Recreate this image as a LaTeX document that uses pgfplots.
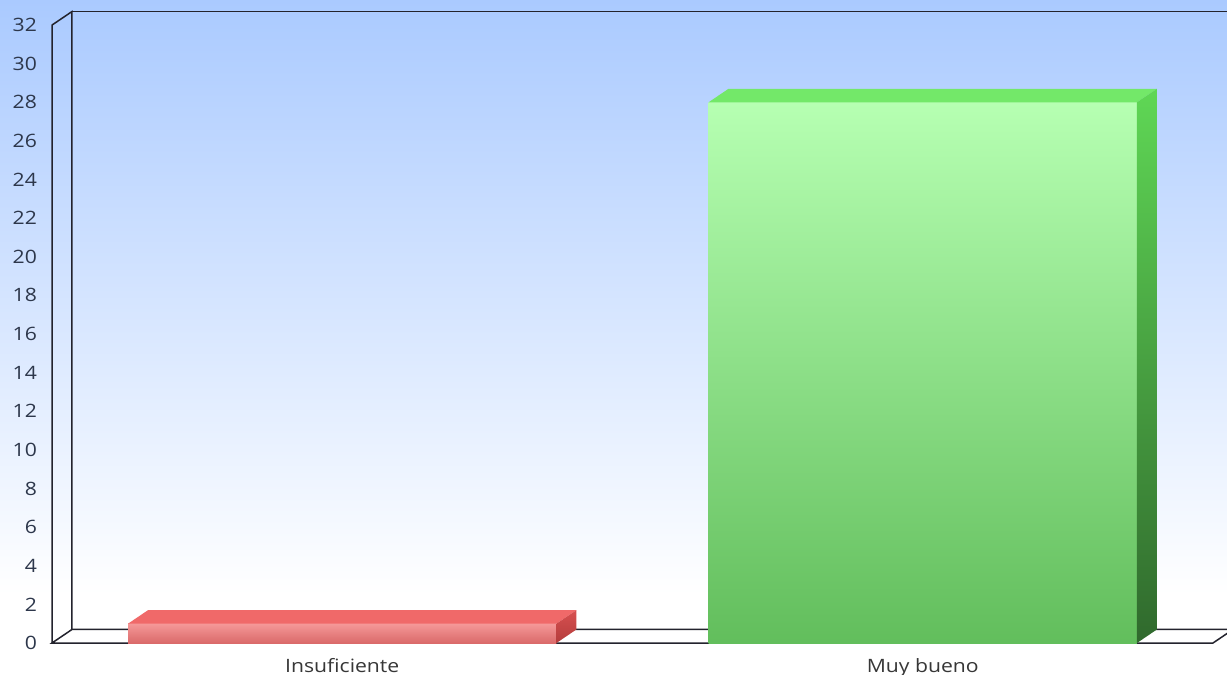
\documentclass[border=0pt]{standalone}
\usepackage{pgfplots}
\pgfplotsset{compat=1.18}
\usepackage{fontspec}
\setmainfont{Open Sans}[FakeStretch=1.15]
\definecolor{bgtop}{RGB}{170,202,255}
\definecolor{frame}{RGB}{35,35,45}
\definecolor{xlab}{RGB}{55,55,55}
\definecolor{ylab}{RGB}{45,55,75}
\definecolor{redfront1}{RGB}{245,152,152}
\definecolor{redfront2}{RGB}{218,106,106}
\definecolor{redtop}{RGB}{240,105,105}
\definecolor{redside1}{RGB}{215,80,80}
\definecolor{redside2}{RGB}{180,60,60}
\definecolor{grnfront1}{RGB}{182,255,178}
\definecolor{grnfront2}{RGB}{98,190,92}
\definecolor{grntop}{RGB}{115,232,105}
\definecolor{grnside1}{RGB}{95,215,85}
\definecolor{grnside2}{RGB}{48,105,45}
\begin{document}
\begin{tikzpicture}
\fill[white] (0,0) rectangle (613.5pt,337.5pt);
\shade[top color=bgtop, bottom color=white] (0,40pt) rectangle (613.5pt,337.5pt);
\begin{axis}[
  at={(26pt,16pt)}, anchor=south west,
  x=290.25pt, y=9.655pt,
  xmin=-0.5, xmax=1.5344, ymin=0, ymax=32.70,
  axis line style={draw=none},
  major tick length=0pt,
  xtick={0,1}, xticklabels={Insuficiente, Muy bueno},
  ytick={0,2,...,32},
  clip=false,
  /pgf/number format/assume math mode=true,
  yticklabel style={font=\fontsize{9.2}{10}\selectfont, text=ylab, xshift=-4pt},
  xticklabel style={font=\fontsize{9.2}{10}\selectfont, text=xlab, yshift=-4pt},
]
% floor and walls
\draw[fill=white, draw=frame, line width=0.75pt] (-0.5,0) -- (1.5,0) -- (1.5344,0.70) -- (-0.4656,0.70) -- cycle;
\draw[frame, line width=0.75pt] (-0.5,0) -- (-0.5,32) -- (-0.4656,32.70) -- (-0.4656,0.70);
\draw[frame, line width=0.75pt] (-0.4656,32.70) -- (1.5344,32.70);
% Insuficiente = 1
\addplot[draw=none, mark=none, top color=redfront1, bottom color=redfront2] coordinates {(-0.369,0) (0.369,0) (0.369,1) (-0.369,1)};
\addplot[draw=none, mark=none, fill=redtop] coordinates {(-0.369,1) (0.369,1) (0.4034,1.70) (-0.3346,1.70)};
\addplot[draw=none, mark=none, top color=redside1, bottom color=redside2] coordinates {(0.369,0) (0.4034,0.70) (0.4034,1.70) (0.369,1)};
% Muy bueno = 28
\addplot[draw=none, mark=none, top color=grnfront1, bottom color=grnfront2] coordinates {(0.631,0) (1.369,0) (1.369,28) (0.631,28)};
\addplot[draw=none, mark=none, fill=grntop] coordinates {(0.631,28) (1.369,28) (1.4034,28.70) (0.6654,28.70)};
\addplot[draw=none, mark=none, top color=grnside1, bottom color=grnside2] coordinates {(1.369,0) (1.4034,0.70) (1.4034,28.70) (1.369,28)};
\end{axis}
\pgfresetboundingbox
\useasboundingbox (0,0) rectangle (613.5pt,337.5pt);
\end{tikzpicture}
\end{document}
